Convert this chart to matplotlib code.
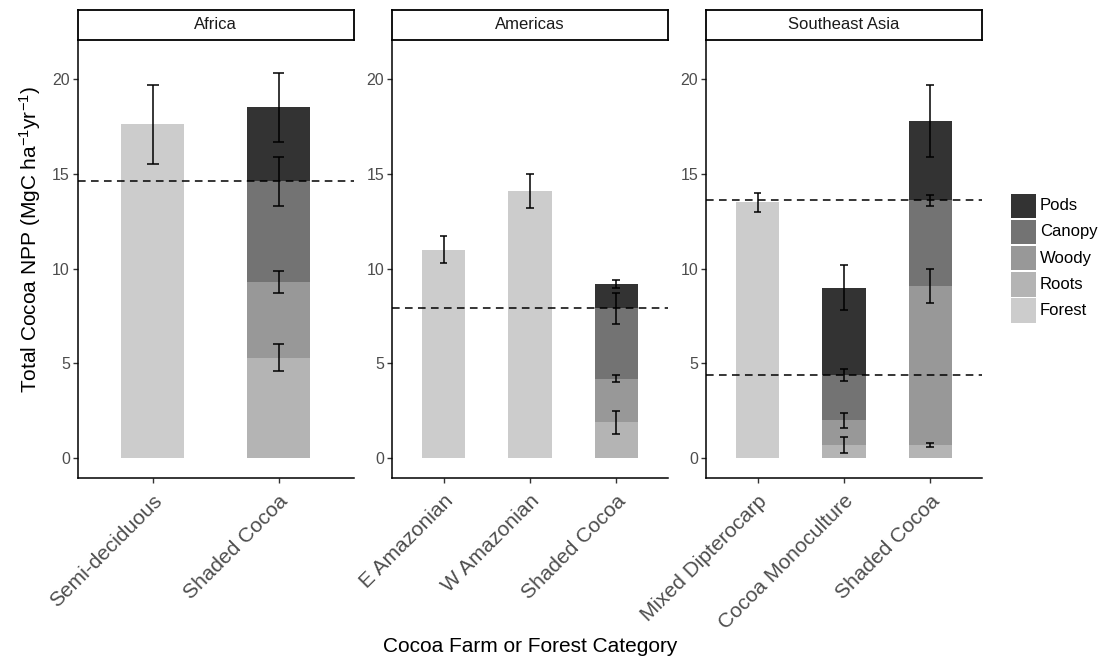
import matplotlib
matplotlib.use("Agg")
import matplotlib.pyplot as plt
from matplotlib.patches import Rectangle
import numpy as np

plt.rcParams['font.family'] = ['Liberation Sans', 'DejaVu Sans']
plt.rcParams['mathtext.fontset'] = 'custom'
plt.rcParams['mathtext.rm'] = 'Liberation Sans'
plt.rcParams['mathtext.it'] = 'Liberation Sans:italic'
plt.rcParams['mathtext.bf'] = 'Liberation Sans:bold'

# ---------------- data ----------------
regions = ["Africa", "Americas", "Southeast Asia"]
categories = [
    ["Semi-deciduous", "Shaded Cocoa"],
    ["E Amazonian", "W Amazonian", "Shaded Cocoa"],
    ["Mixed Dipterocarp", "Cocoa Monoculture", "Shaded Cocoa"],
]
# forest bars (region index, category index, value, error)
forest_region = [0, 1, 1, 2]
forest_cat = [0, 0, 1, 0]
forest_val = [17.6, 11.0, 14.1, 13.5]
forest_err = [2.1, 0.7, 0.9, 0.5]

# cocoa stacked bars: components from bottom to top
components = ["Roots", "Woody", "Canopy", "Pods"]
cocoa_region = [0, 1, 2, 2]
cocoa_cat = [1, 2, 1, 2]
roots_val = [5.3, 1.9, 0.7, 0.7]
woody_val = [4.0, 2.3, 1.3, 8.4]
canopy_val = [5.3, 3.7, 2.4, 4.5]
pods_val = [3.9, 1.3, 4.6, 4.2]
roots_err = [0.7, 0.6, 0.4, 0.1]
woody_err = [0.6, 0.2, 0.4, 0.9]
canopy_err = [1.3, 0.8, 0.3, 0.3]
pods_err = [1.8, 0.2, 1.2, 1.9]

# dashed reference lines per region
ref_lines = [[14.6], [7.9], [13.6, 4.4]]

legend_labels = ["Pods", "Canopy", "Woody", "Roots", "Forest"]
colors = {"Pods": "#333333", "Canopy": "#737373", "Woody": "#989898",
          "Roots": "#B4B4B4", "Forest": "#CCCCCC"}

y_ticks = [0, 5, 10, 15, 20]
# --------------------------------------

W, H = 1102, 662
fig = plt.figure(figsize=(W / 100, H / 100), dpi=100)

panel_left_px = [77.5, 391.7, 705.7]
panel_w_px = 276.5
panel_top_px, panel_bot_px = 39.5, 478.3
strip_top_px = 10

tick_col = "#4D4D4D"
bar_w = 0.5
cap_w = 0.09

axes = []
for r, region in enumerate(regions):
    l = panel_left_px[r] / W
    b = 1 - panel_bot_px / H
    ax = fig.add_axes([l, b, panel_w_px / W, (panel_bot_px - panel_top_px) / H])
    axes.append(ax)
    n = len(categories[r])
    ax.set_xlim(0.4, n + 0.6)
    ax.set_ylim(-1.055, 22.08)
    ax.set_xticks(np.arange(1, n + 1))
    ax.set_xticklabels(categories[r], rotation=45, ha="right", va="top",
                       rotation_mode="anchor", fontsize=15, color=tick_col)
    ax.set_yticks(y_ticks)
    ax.set_yticklabels([str(t) for t in y_ticks], fontsize=11.5, color=tick_col)
    for s in ["top", "right"]:
        ax.spines[s].set_visible(False)
    for s in ["left", "bottom"]:
        ax.spines[s].set_linewidth(1.1)
        ax.spines[s].set_color("black")
    ax.tick_params(axis="both", length=3.5, width=1.0, color="#333333")
    ax.tick_params(axis="y", pad=2)
    ax.tick_params(axis="x", pad=6)

    # strip
    sax = fig.add_axes([l, 1 - panel_top_px / H, panel_w_px / W,
                        (panel_top_px - strip_top_px) / H])
    sax.set_xticks([]); sax.set_yticks([])
    for s in sax.spines.values():
        s.set_linewidth(1.3)
        s.set_color("black")
    sax.text(0.5, 0.5, region, ha="center", va="center", fontsize=12,
             color="#1A1A1A", transform=sax.transAxes)

def errbar(ax, x, y, e):
    ax.vlines(x, y - e, y + e, color="black", lw=1.1, zorder=5)
    ax.hlines([y - e, y + e], x - cap_w / 2, x + cap_w / 2, color="black",
              lw=1.1, zorder=5)

# forest bars
for r, c, v, e in zip(forest_region, forest_cat, forest_val, forest_err):
    ax = axes[r]
    ax.bar(c + 1, v, width=bar_w, color=colors["Forest"], zorder=2)

# cocoa stacked bars
seg_vals = [roots_val, woody_val, canopy_val, pods_val]
seg_errs = [roots_err, woody_err, canopy_err, pods_err]
for i, (r, c) in enumerate(zip(cocoa_region, cocoa_cat)):
    ax = axes[r]
    bottom = 0.0
    for comp, vals in zip(components, seg_vals):
        ax.bar(c + 1, vals[i], bottom=bottom, width=bar_w,
               color=colors[comp], zorder=2)
        bottom += vals[i]

# reference lines
for r, lines in enumerate(ref_lines):
    for yv in lines:
        axes[r].axhline(yv, color="black", lw=1.1, ls=(0, (5, 3.5)), zorder=3)

# error bars
for r, c, v, e in zip(forest_region, forest_cat, forest_val, forest_err):
    errbar(axes[r], c + 1, v, e)
for i, (r, c) in enumerate(zip(cocoa_region, cocoa_cat)):
    top = 0.0
    for vals, errs in zip(seg_vals, seg_errs):
        top += vals[i]
        errbar(axes[r], c + 1, top, errs[i])

# axis titles
fig.text(0.5 * (panel_left_px[0] + panel_left_px[2] + panel_w_px) / W, 1 - 647 / H,
         "Cocoa Farm or Forest Category", ha="center", va="center", fontsize=15)
fig.text(30 / W, 1 - 240 / H, r"Total Cocoa NPP (MgC ha$^{-1}$yr$^{-1}$)",
         ha="center", va="center", rotation=90, fontsize=15)

# legend (drawn manually for exact key size)
key_x, key_y0, key_w, key_h, pitch = 1011, 193.5, 24.5, 24.5, 26.2
for k, lab in enumerate(legend_labels):
    ytop = key_y0 + k * pitch
    fig.patches.append(Rectangle((key_x / W, 1 - (ytop + key_h) / H),
                                 key_w / W, key_h / H,
                                 facecolor=colors[lab], edgecolor="none",
                                 transform=fig.transFigure, figure=fig))
    fig.text(1040 / W, 1 - (ytop + key_h / 2) / H, lab, ha="left",
             va="center", fontsize=12, color="black")

fig.savefig("out.png", dpi=100)
